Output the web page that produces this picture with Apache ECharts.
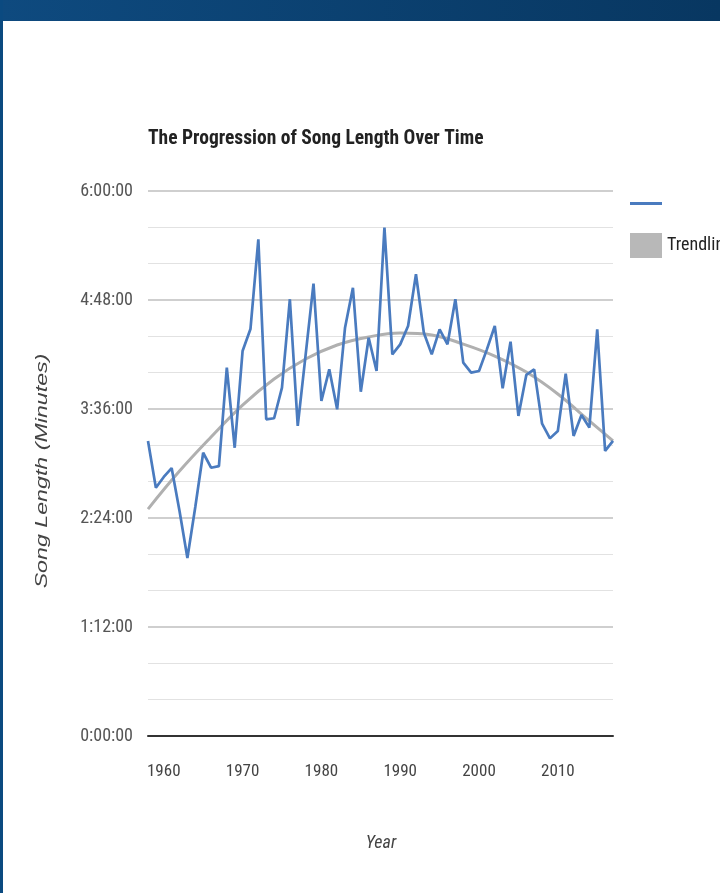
<!DOCTYPE html>
<html>
<head>
<meta charset="utf-8">
<style>
  html, body { margin: 0; padding: 0; background: #ffffff; }
  #chart { width: 720px; height: 893px; }
</style>
<script src="https://cdn.jsdelivr.net/npm/echarts@6/dist/echarts.min.js"></script>
</head>
<body>
<div id="chart"></div>
<script>
// Average song length per year, in minutes
const years = [1958, 1959, 1960, 1961, 1962, 1963, 1964, 1965, 1966, 1967,
               1968, 1969, 1970, 1971, 1972, 1973, 1974, 1975, 1976, 1977,
               1978, 1979, 1980, 1981, 1982, 1983, 1984, 1985, 1986, 1987,
               1988, 1989, 1990, 1991, 1992, 1993, 1994, 1995, 1996, 1997,
               1998, 1999, 2000, 2001, 2002, 2003, 2004, 2005, 2006, 2007,
               2008, 2009, 2010, 2011, 2012, 2013, 2014, 2015, 2016, 2017];
const songLength = [194.9, 164.0, 171.1, 177.0, 148.6, 117.6, 151.3, 187.1, 177.2, 178.3,
                    243.3, 190.4, 254.3, 268.8, 328.1, 209.2, 209.9, 230.1, 288.5, 204.8,
                    251.7, 298.8, 221.3, 242.2, 215.8, 269.7, 296.1, 227.4, 263.1, 241.1,
                    335.8, 252.1, 258.7, 270.8, 305.0, 266.4, 252.1, 268.6, 258.7, 288.5,
                    246.6, 240.0, 241.1, 255.4, 270.8, 229.7, 260.5, 211.4, 238.5, 242.2,
                    206.3, 196.6, 201.5, 239.3, 198.2, 212.0, 203.7, 268.6, 188.3, 194.9];

// Trendline samples (minutes)
const trendYears = [1958, 1962, 1966, 1970, 1974, 1978, 1982, 1986,
                    1990, 1994, 1998, 2002, 2006, 2010, 2014, 2017];
const trendValues = [149.9, 175.0, 197.5, 218.6, 235.8, 249.0, 258.3, 263.6,
                     266.2, 264.9, 258.9, 251.0, 240.4, 225.9, 208.1, 194.9];

// Axis ticks
const yearTicks = [1960, 1970, 1980, 1990, 2000, 2010];
const lengthTicksMax = 360;
const lengthTickStep = 72;

const chartTitle = 'The Progression of Song Length Over Time';
const xTitle = 'Year';
const yTitle = 'Song Length (Minutes)';
const seriesName = 'Song length';
const trendName = 'Trendline';

const NARROW = '"Liberation Sans Narrow", "Arial Narrow", "Roboto Condensed", sans-serif';

function fmtTime(minutes) {
  const h = Math.floor(minutes / 60);
  const m = Math.round(minutes % 60);
  return h + ':' + String(m).padStart(2, '0') + ':00';
}

const chart = echarts.init(document.getElementById('chart'), null, { renderer: 'canvas' });

chart.setOption({
  animation: false,
  backgroundColor: '#ffffff',
  title: {
    text: chartTitle,
    left: 143,
    top: 124,
    textStyle: { fontFamily: NARROW, fontSize: 19.5, fontWeight: 'bold', color: '#222222' }
  },
  legend: [
    {
      left: 630, top: 202, padding: 0,
      itemWidth: 32, itemHeight: 3,
      icon: 'rect',
      data: [seriesName],
      formatter: () => '',
      selectedMode: false
    },
    {
      left: 630, top: 233, padding: 0,
      itemWidth: 32, itemHeight: 25,
      icon: 'rect',
      data: [trendName],
      selectedMode: false,
      textStyle: { fontFamily: NARROW, fontSize: 18, color: '#222222' }
    }
  ],
  grid: { left: 148, right: 107, top: 191, bottom: 157, containLabel: false },
  xAxis: {
    type: 'value',
    min: 1958,
    max: 2017,
    axisLine: { show: true, onZero: false, lineStyle: { color: '#333333', width: 2 } },
    axisTick: { show: false },
    splitLine: { show: false },
    axisLabel: {
      customValues: yearTicks,
      margin: 27,
      fontFamily: NARROW, fontSize: 17, color: '#444444',
      formatter: v => String(v)
    }
  },
  yAxis: {
    type: 'value',
    min: 0,
    max: lengthTicksMax,
    interval: lengthTickStep,
    axisLine: { show: false },
    axisTick: { show: false },
    minorTick: { show: false, splitNumber: 3 },
    splitLine: { show: true, lineStyle: { color: '#bfbfbf', width: 1.6 } },
    minorSplitLine: { show: true, lineStyle: { color: '#e2e2e2', width: 1.2 } },
    axisLabel: {
      margin: 15,
      fontFamily: NARROW, fontSize: 18, color: '#555555',
      formatter: v => fmtTime(v)
    }
  },
  graphic: [
    {
      type: 'rect', z: 100,
      shape: { x: 0, y: 0, width: 720, height: 21 },
      style: {
        fill: new echarts.graphic.LinearGradient(0, 0, 1, 0, [
          { offset: 0, color: '#0e4a7f' },
          { offset: 1, color: '#083761' }
        ])
      }
    },
    {
      type: 'rect', z: 100,
      shape: { x: 0, y: 0, width: 3, height: 893 },
      style: { fill: '#0b4a80' }
    },
    {
      type: 'text', z: 100,
      x: 43, y: 471,
      rotation: Math.PI / 2,
      scaleX: 1.45,
      style: {
        text: yTitle,
        fontFamily: '"Liberation Sans", Arial, sans-serif',
        fontStyle: 'italic',
        fontSize: 16,
        fill: '#444444',
        align: 'center',
        verticalAlign: 'middle'
      }
    },
    {
      type: 'text', z: 100,
      x: 381, y: 843,
      style: {
        text: xTitle,
        fontFamily: NARROW,
        fontStyle: 'italic',
        fontSize: 18,
        fill: '#444444',
        align: 'center',
        verticalAlign: 'middle'
      }
    }
  ],
  series: [
    {
      name: trendName,
      type: 'line',
      data: trendYears.map((y, i) => [y, trendValues[i]]),
      smooth: 0.4,
      showSymbol: false,
      color: '#b8b8b8',
      lineStyle: { color: '#b0b0b0', width: 3 },
      z: 2
    },
    {
      name: seriesName,
      type: 'line',
      data: years.map((y, i) => [y, songLength[i]]),
      showSymbol: false,
      color: '#4a7bbf',
      lineStyle: { color: '#4a7bbf', width: 2.7 },
      z: 3
    }
  ]
});
</script>
</body>
</html>
